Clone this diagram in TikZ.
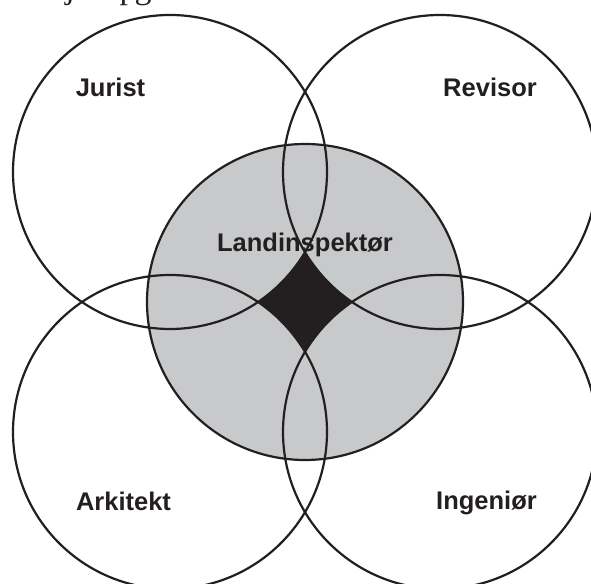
\documentclass[tikz,border=0pt]{standalone}
\usepackage{fontspec}
\setmainfont{Liberation Sans}
\newfontfamily\serifpage{Liberation Serif}
\definecolor{inkblack}{RGB}{35,31,32}
\definecolor{fillgray}{RGB}{200,201,203}
\tikzset{
  ring/.style={draw=inkblack, line width=2.2pt},
  lbl/.style={font=\bfseries\fontsize{25.5}{30}\selectfont, text=inkblack, anchor=base, inner sep=0pt},
  frag/.style={font=\serifpage\fontsize{34}{40}\selectfont, text=inkblack, anchor=base, inner sep=0pt}
}
\begin{document}
\begin{tikzpicture}[x=1pt,y=1pt]
\useasboundingbox (0,0) rectangle (591,583);
\clip (0,0) rectangle (591,583);
% centres
\coordinate (tl) at (170,411);
\coordinate (tr) at (440,411);
\coordinate (bl) at (170,151);
\coordinate (br) at (440,151);
\coordinate (mid) at (305,281);
% grey centre disc
\fill[fillgray] (mid) circle[radius=158];
% black concave diamond
\begin{scope}
  \clip (245,219) rectangle (365,343);
  \fill[inkblack] (245,219) rectangle (365,343);
  \fill[fillgray] (tl) circle[radius=157];
  \fill[fillgray] (tr) circle[radius=157];
  \fill[fillgray] (bl) circle[radius=157];
  \fill[fillgray] (br) circle[radius=157];
\end{scope}
% outlines
\draw[ring] (mid) circle[radius=158];
\draw[ring] (tl) circle[radius=157];
\draw[ring] (tr) circle[radius=157];
\draw[ring] (bl) circle[radius=157];
\draw[ring] (br) circle[radius=157];
% labels
\node[lbl] (jurist) at (110.5,486) {Jurist};
\node[lbl] (revisor) at (490,486) {Revisor};
\node[lbl] (land) at (305,331) {Landinspektør};
\node[lbl] (arkitekt) at (123.5,72) {Arkitekt};
\node[lbl] (ingenior) at (486.5,73) {Ingeniør};
% cut-off text of the page above
\node[frag] (fj) at (70,584) {j};
\node[frag] (fp) at (128,584) {p};
\node[frag] (fg) at (143,584) {g};
\end{tikzpicture}
\end{document}
